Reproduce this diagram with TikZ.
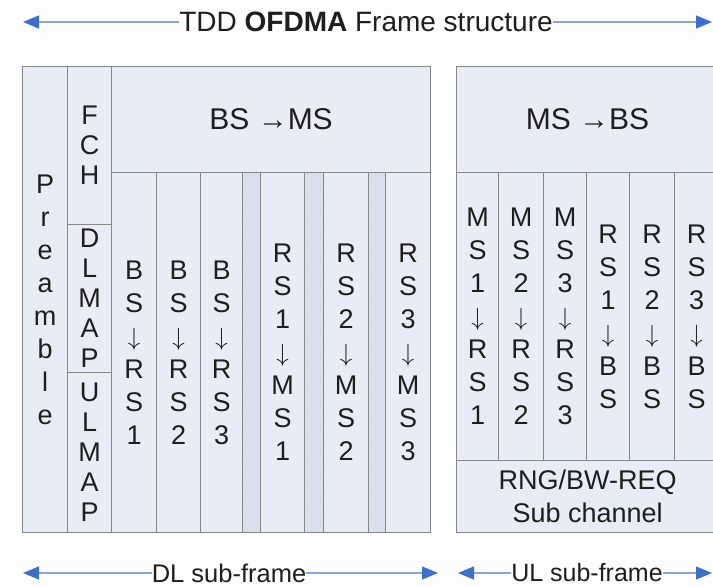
\documentclass[tikz,border=0pt]{standalone}
\usepackage{fontspec}
\setmainfont{Liberation Sans}
\usetikzlibrary{arrows.meta,patterns}
\definecolor{cellfill}{RGB}{232,236,246}
\definecolor{cellline}{RGB}{135,135,135}
\definecolor{hatchfill}{RGB}{226,232,243}
\definecolor{hatchline}{RGB}{200,210,228}
\definecolor{arrblue}{RGB}{62,112,200}
\definecolor{lineblue}{RGB}{140,165,215}
\definecolor{bgcol}{RGB}{253,253,253}
\definecolor{txt}{RGB}{30,30,30}
\newcommand\dn{$\downarrow$}
\begin{document}
\begin{tikzpicture}[x=1pt,y=-1pt,
 cell/.style={draw=cellline, line width=1.2pt, fill=cellfill, anchor=north west, inner sep=0pt, align=center, font=\fontsize{27}{33}\selectfont, text=txt},
 tight/.style={font=\fontsize{27}{30}\selectfont},
 hatch/.style={draw=cellline, line width=1.2pt, anchor=north west, inner sep=0pt, minimum height=360pt, preaction={fill=hatchfill}, pattern=north east lines, pattern color=hatchline},
 lbl/.style={inner sep=0pt, font=\fontsize{25.5}{30}\selectfont, text=txt},
 arr/.style={draw=lineblue, line width=1.2pt, -{Triangle[length=16pt,width=13pt,color=arrblue]}}
]
\useasboundingbox (0,0) rectangle (713,587);
\fill[bgcol] (0,0) rectangle (713,587);
\clip (0,0) rectangle (713,587);

% title
\node[lbl, font=\fontsize{28}{30}\selectfont] (title) at (366,22) {TDD \textbf{OFDMA} Frame structure};
\coordinate (tl) at (23,22);
\coordinate (tr) at (712,22);
\draw[arr] (title.west) -- (tl);
\draw[arr] (title.east) -- (tr);

% DL sub-frame
\node[cell, minimum width=45pt, minimum height=466pt] (pre) at (22,66) {P\\r\\e\\a\\m\\b\\l\\e};
\node[cell, tight, minimum width=44pt, minimum height=158pt] (fch) at (67,66) {F\\C\\H};
\node[cell, tight, minimum width=44pt, minimum height=148pt] (dlmap) at (67,224) {D\\L\\M\\A\\P};
\node[cell, tight, minimum width=44pt, minimum height=160pt] (ulmap) at (67,372) {U\\L\\M\\A\\P};
\node[cell, font=\fontsize{30}{30}\selectfont, minimum width=319pt, minimum height=106pt] (bsms) at (111,66) {BS →MS};
\node[cell, minimum width=45pt, minimum height=360pt] (dl1) at (111,172) {B\\S\\\dn\\R\\S\\1};
\node[cell, minimum width=44pt, minimum height=360pt] (dl2) at (156,172) {B\\S\\\dn\\R\\S\\2};
\node[cell, minimum width=42pt, minimum height=360pt] (dl3) at (200,172) {B\\S\\\dn\\R\\S\\3};
\node[hatch, minimum width=18pt] (h1) at (242,172) {};
\node[cell, minimum width=44pt, minimum height=360pt] (dl4) at (260,172) {R\\S\\1\\\dn\\M\\S\\1};
\node[hatch, minimum width=19pt] (h2) at (304,172) {};
\node[cell, minimum width=45pt, minimum height=360pt] (dl5) at (323,172) {R\\S\\2\\\dn\\M\\S\\2};
\node[hatch, minimum width=17pt] (h3) at (368,172) {};
\node[cell, minimum width=45pt, minimum height=360pt] (dl6) at (385,172) {R\\S\\3\\\dn\\M\\S\\3};

% UL sub-frame
\node[cell, font=\fontsize{30}{30}\selectfont, minimum width=262pt, minimum height=106pt] (msbs) at (456,66) {MS →BS};
\node[cell, minimum width=42pt, minimum height=288pt] (ul1) at (456,172) {M\\S\\1\\\dn\\R\\S\\1};
\node[cell, minimum width=45pt, minimum height=288pt] (ul2) at (498,172) {M\\S\\2\\\dn\\R\\S\\2};
\node[cell, minimum width=43pt, minimum height=288pt] (ul3) at (543,172) {M\\S\\3\\\dn\\R\\S\\3};
\node[cell, minimum width=43pt, minimum height=288pt] (ul4) at (586,172) {R\\S\\1\\\dn\\B\\S};
\node[cell, minimum width=45pt, minimum height=288pt] (ul5) at (629,172) {R\\S\\2\\\dn\\B\\S};
\node[cell, minimum width=44pt, minimum height=288pt] (ul6) at (674,172) {R\\S\\3\\\dn\\B\\S};
\node[cell, font=\fontsize{27}{33}\selectfont, minimum width=262pt, minimum height=72pt] (rng) at (456,460) {RNG/BW-REQ\\Sub channel};

% bottom labels
\node[lbl] (dl) at (229,573) {DL sub-frame};
\coordinate (dll) at (23,573);
\coordinate (dlr) at (438,573);
\draw[arr] (dl.west) -- (dll);
\draw[arr] (dl.east) -- (dlr);
\node[lbl, font=\fontsize{25}{30}\selectfont] (ul) at (587,573) {UL sub-frame};
\coordinate (ull) at (458,573);
\coordinate (ulr) at (712,573);
\draw[arr] (ul.west) -- (ull);
\draw[arr] (ul.east) -- (ulr);
\end{tikzpicture}
\end{document}
